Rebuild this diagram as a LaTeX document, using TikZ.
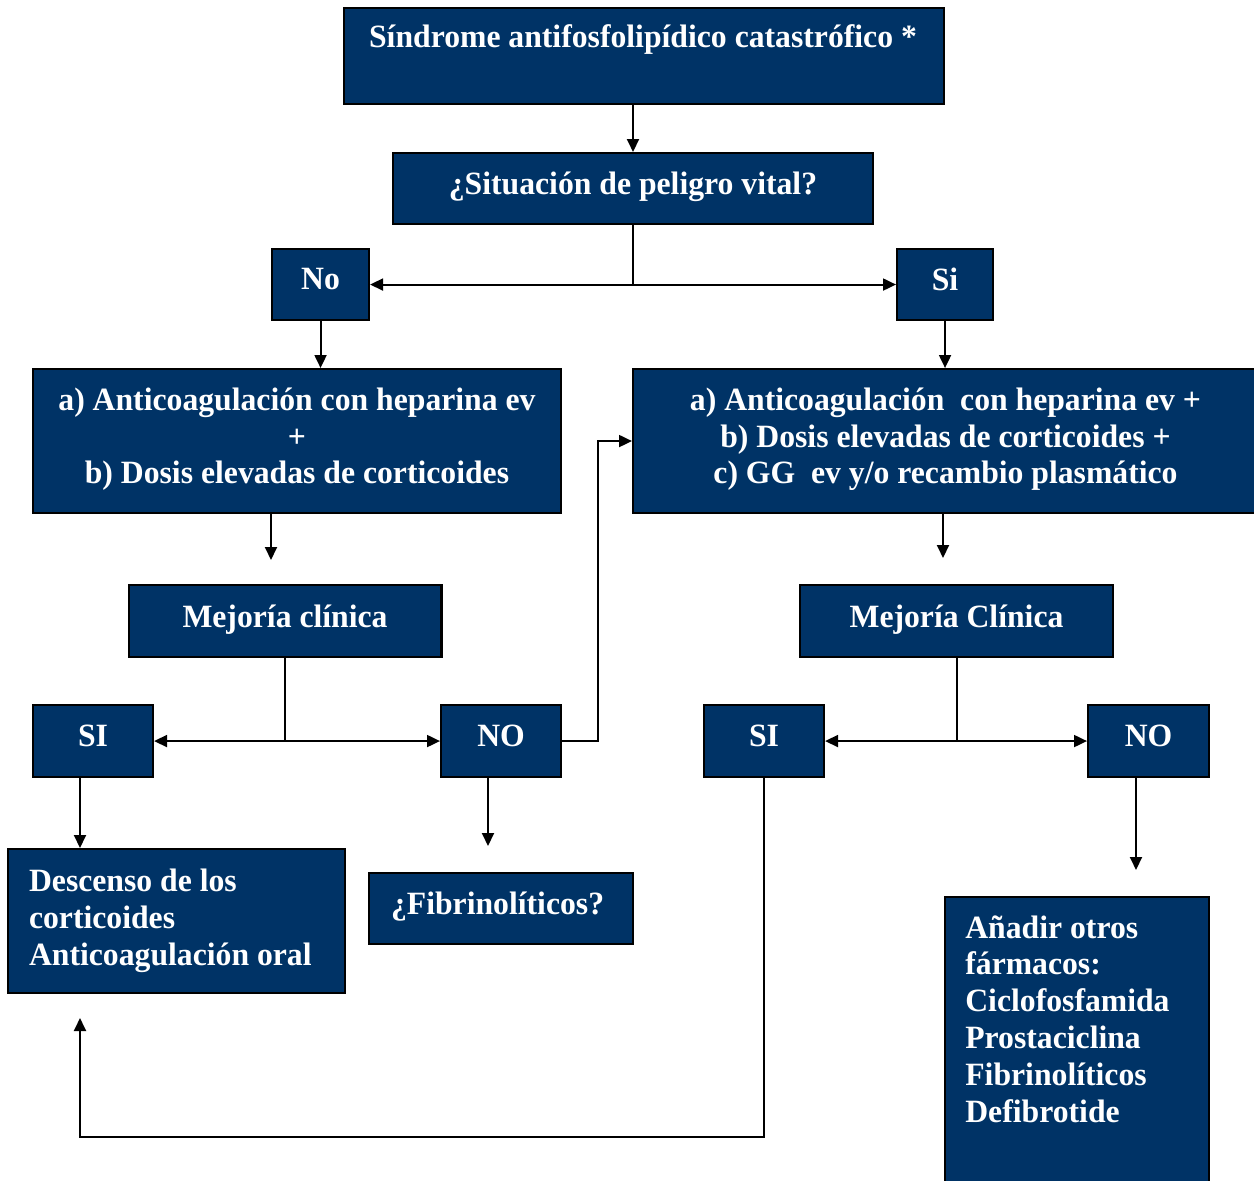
\documentclass[tikz,border=0pt]{standalone}
\usepackage{fontspec}
\setmainfont{Liberation Serif}[FakeStretch=0.975]
\usetikzlibrary{arrows.meta}
\definecolor{navy}{RGB}{0,51,102}
\newcommand{\flowfont}{\fontsize{18.5}{21}\selectfont\bfseries}
\tikzset{
  box/.style  = {shape=rectangle, draw=black, line width=1.2pt,
                 fill=navy, text=white, font=\flowfont, text depth=6pt,
                 inner sep=0pt, anchor=north west, align=center},
  lbox/.style = {box, align=flush left},
  line/.style = {line width=1.1pt},
  link/.style = {line, -{Triangle[length=0.26cm,width=0.24cm]}}
}

\begin{document}
\begin{tikzpicture}[x=0.02cm, y=-0.02cm]
  \useasboundingbox (0,0) rectangle (1254,1180);

  % top of the chart
  \node [box, minimum width=12cm, minimum height=1.92cm] (sap) at (343,7) {};
  \node [text=white, font=\flowfont, anchor=base] (saptxt) at (643,47)
    {Síndrome antifosfolipídico catastrófico *};
  \node [box, minimum width=9.6cm, minimum height=1.42cm] (vital) at (392,152)
    {¿Situación de peligro vital?};
  \node [box, minimum width=1.94cm, minimum height=1.42cm] (no) at (271,248) {No};
  \node [box, minimum width=1.92cm, minimum height=1.42cm] (si) at (896,248) {Si};

  % treatments
  \node [box, minimum width=10.56cm, minimum height=2.88cm] (trat1) at (32,368)
    {a) Anticoagulación con heparina ev\\+\\b) Dosis elevadas de corticoides};
  \node [box, minimum width=12.5cm, minimum height=2.88cm] (trat2) at (632,368)
    {a) Anticoagulación\ \ con heparina ev +\\b) Dosis elevadas de corticoides +\\c) GG\ \ ev y/o recambio plasmático};

  % response
  \node [box, minimum width=6.26cm, minimum height=1.44cm] (mej1) at (127.5,584) {Mejoría clínica};
  \node [box, minimum width=6.26cm, minimum height=1.44cm] (mej2) at (799,584) {Mejoría Clínica};
  \node [box, minimum width=2.4cm, minimum height=1.44cm] (si1) at (32,704) {SI};
  \node [box, minimum width=2.4cm, minimum height=1.44cm] (no1) at (440,704) {NO};
  \node [box, minimum width=2.4cm, minimum height=1.44cm] (si2) at (703,704) {SI};
  \node [box, minimum width=2.42cm, minimum height=1.44cm] (no2) at (1087,704) {NO};

  % outcomes
  \node [lbox, text depth=, minimum width=6.74cm, minimum height=2.88cm,
         text width=5.9cm, inner xsep=0.42cm] (desc) at (7,848)
    {Descenso de los\\corticoides\\Anticoagulación oral};
  \node [lbox, minimum width=5.28cm, minimum height=1.42cm, text width=4.4cm,
         inner xsep=0.44cm] (fibr) at (368,872) {¿Fibrinolíticos?};
  \node [box, minimum width=5.28cm, minimum height=6.2cm] (otros) at (944,896) {};
  \node [text=white, font=\flowfont, align=flush left, anchor=north west, inner sep=0pt]
    (otrostxt) at (965,915)
    {Añadir otros\\fármacos:\\Ciclofosfamida\\Prostaciclina\\Fibrinolíticos\\Defibrotide};

  % free arrow ends
  \coordinate (trat1end) at (271,560);
  \coordinate (trat2end) at (943,558);
  \coordinate (descx)    at (80,0);
  \coordinate (no1end)   at (488,846);
  \coordinate (no2end)   at (1136,870);
  \coordinate (si2end)   at (80,1018);

  \draw [link] (vital.north |- sap.south) -- (vital);
  \draw [link] (vital.south) |- (no.east);
  \draw [link] (vital.south) |- (si.west);
  \draw [link] (no) -- (no |- trat1.north);
  \draw [link] (si) -- (si |- trat2.north);
  \draw [link] (trat1.south -| trat1end) -- (trat1end);
  \draw [link] (trat2.south -| trat2end) -- (trat2end);
  \draw [link] (mej1.south) |- (si1.east);
  \draw [link] (mej1.south) |- (no1.west);
  \draw [link] (mej2.south) |- (si2.east);
  \draw [link] (mej2.south) |- (no2.west);
  \draw [link] (no1.east) -- ++(36,0) |- (trat2.west);
  \draw [link] (si1.south -| descx) -- (desc.north -| descx);
  \draw [link] (no1.south -| no1end) -- (no1end);
  \draw [link] (no2.south -| no2end) -- (no2end);
  \draw [link] (si2.south) -- ++(0,359) -| (si2end);
\end{tikzpicture}
\end{document}
